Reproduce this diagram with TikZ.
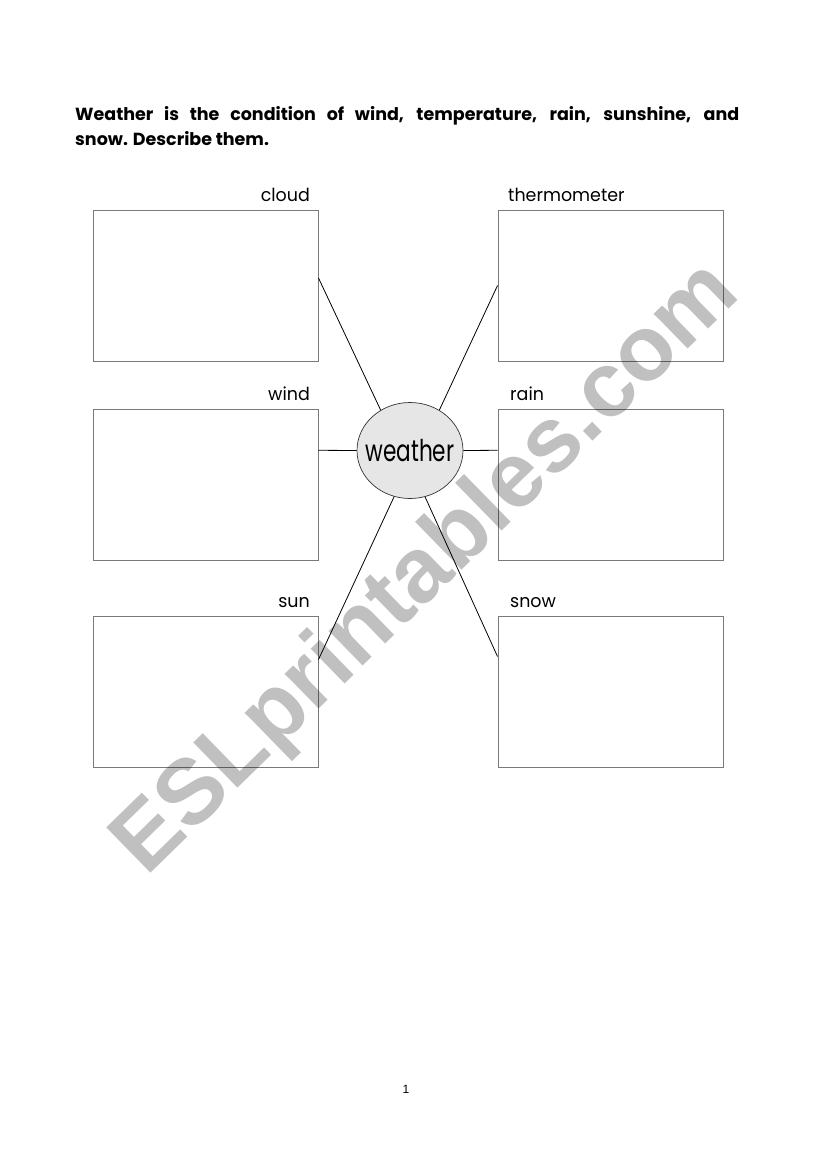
\documentclass[tikz,border=0pt]{standalone}
\usepackage{fontspec}
\setmainfont{Poppins}
\newfontfamily\labelfont[FakeStretch=0.97]{Poppins}
\newfontfamily\centrefont[FakeStretch=0.72]{Poppins}
\newfontfamily\wmfont{Liberation Sans}
\newfontfamily\pagefont{Liberation Sans}
\usetikzlibrary{shapes.geometric,calc}
\definecolor{boxgray}{HTML}{7A7A7A}
\definecolor{wmgray}{HTML}{C0C0C0}
\definecolor{ellfill}{HTML}{E6E6E6}
\tikzset{
  answerbox/.style={draw=boxgray, line width=0.9pt, minimum width=225pt, minimum height=151pt, inner sep=0pt},
  lbl/.style={font=\labelfont\fontsize{18}{18}\selectfont, inner sep=0pt},
  spoke/.style={draw=black, line width=0.8pt},
  titlefont/.style={font=\bfseries\fontsize{17.5}{20}\selectfont, inner sep=0pt},
}
\begin{document}
\begin{tikzpicture}[x=1pt,y=-1pt]
\useasboundingbox (0,0) rectangle (821,1169);
\fill[white] (0,0) rectangle (821,1169);

% title
\node[anchor=base west, titlefont] (t1) at (75,121)
  {\makebox[664pt][s]{Weather is the condition of wind, temperature, rain, sunshine, and}};
\node[anchor=base west, titlefont] (t2) at (75,146)
  {snow. Describe them.};

% boxes
\node[answerbox] (cloud) at (205.5,285.5) {};
\node[answerbox] (thermo) at (610.5,285.5) {};
\node[answerbox] (wind) at (205.5,484.5) {};
\node[answerbox] (rain) at (610.5,484.5) {};
\node[answerbox] (sun) at (205.5,691.5) {};
\node[answerbox] (snow) at (610.5,691.5) {};

% labels
\node[lbl, anchor=base east] (lcloud) at (310,201) {cloud};
\node[lbl, anchor=base west] (lthermo) at (508,201) {thermometer};
\node[lbl, anchor=base east] (lwind) at (310,400) {wind};
\node[lbl, anchor=base west] (lrain) at (510,400) {rain};
\node[lbl, anchor=base east] (lsun) at (310,607) {sun};
\node[lbl, anchor=base west] (lsnow) at (510,607) {snow};

% centre
\node[ellipse, draw=black!80, line width=0.7pt, fill=ellfill, minimum width=106pt, minimum height=96pt, inner sep=0pt,
      font=\centrefont\fontsize{30}{30}\selectfont] (weather) at (410,450.5) {\makebox[0pt]{\raisebox{-0.35ex}{weather}}};

% spokes
\draw[spoke] ($(cloud.north east)!0.45!(cloud.south east)$) -- (weather.126);
\draw[spoke] (thermo.west) -- (weather.54);
\draw[spoke] ($(wind.north east)!0.2748!(wind.south east)$) -- (weather.west);
\draw[spoke] ($(rain.north west)!0.2748!(rain.south west)$) -- (weather.east);
\draw[spoke] ($(sun.north east)!0.29!(sun.south east)$) -- (weather.251);
\draw[spoke] ($(snow.north west)!0.27!(snow.south west)$) -- (weather.288);

% watermark
\begin{scope}[blend mode=multiply]
\node[rotate=44.3, anchor=base west, inner sep=0pt, text=wmgray,
      font=\wmfont\bfseries\fontsize{92}{92}\selectfont] (wm) at (146,878) {ESLprintables.com};
\end{scope}

% page number
\node[anchor=base, inner sep=0pt, font=\pagefont\fontsize{12}{12}\selectfont] (pg) at (406,1093) {1};
\end{tikzpicture}
\end{document}
